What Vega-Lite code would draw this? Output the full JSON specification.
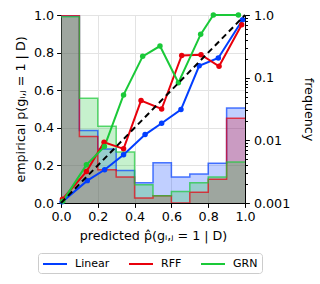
{
  "$schema": "https://vega.github.io/schema/vega-lite/v6.json",
  "width": 184,
  "height": 188,
  "autosize": "none",
  "padding": {"left": 61, "top": 15, "right": 75, "bottom": 81},
  "datasets": {
    "hist": [
      {"model": "Linear", "x": 0.0, "f": 0.96},
      {"model": "Linear", "x": 0.1, "f": 0.0144},
      {"model": "Linear", "x": 0.2, "f": 0.0073},
      {"model": "Linear", "x": 0.3, "f": 0.0033},
      {"model": "Linear", "x": 0.4, "f": 0.0021},
      {"model": "Linear", "x": 0.5, "f": 0.0044},
      {"model": "Linear", "x": 0.6, "f": 0.0026},
      {"model": "Linear", "x": 0.7, "f": 0.0029},
      {"model": "Linear", "x": 0.8, "f": 0.0043},
      {"model": "Linear", "x": 0.9, "f": 0.0327},
      {"model": "Linear", "x": 1.0, "f": 0.0327},
      {"model": "RFF", "x": 0.0, "f": 0.98},
      {"model": "RFF", "x": 0.1, "f": 0.0115},
      {"model": "RFF", "x": 0.2, "f": 0.0034},
      {"model": "RFF", "x": 0.3, "f": 0.0026},
      {"model": "RFF", "x": 0.4, "f": 0.0012},
      {"model": "RFF", "x": 0.5, "f": 0.0013},
      {"model": "RFF", "x": 0.6, "f": 0.001},
      {"model": "RFF", "x": 0.7, "f": 0.00148},
      {"model": "RFF", "x": 0.8, "f": 0.0024},
      {"model": "RFF", "x": 0.9, "f": 0.0226},
      {"model": "RFF", "x": 1.0, "f": 0.0226},
      {"model": "GRN", "x": 0.0, "f": 0.94},
      {"model": "GRN", "x": 0.1, "f": 0.047},
      {"model": "GRN", "x": 0.2, "f": 0.0168},
      {"model": "GRN", "x": 0.3, "f": 0.0065},
      {"model": "GRN", "x": 0.4, "f": 0.00196},
      {"model": "GRN", "x": 0.5, "f": 0.0013},
      {"model": "GRN", "x": 0.6, "f": 0.00153},
      {"model": "GRN", "x": 0.7, "f": 0.0021},
      {"model": "GRN", "x": 0.8, "f": 0.0026},
      {"model": "GRN", "x": 0.9, "f": 0.0045},
      {"model": "GRN", "x": 1.0, "f": 0.0045}
    ],
    "cal": [
      {"model": "Linear", "x": 0.006, "y": 0.006},
      {"model": "Linear", "x": 0.143, "y": 0.119},
      {"model": "Linear", "x": 0.237, "y": 0.177},
      {"model": "Linear", "x": 0.34, "y": 0.257},
      {"model": "Linear", "x": 0.457, "y": 0.364},
      {"model": "Linear", "x": 0.547, "y": 0.424},
      {"model": "Linear", "x": 0.652, "y": 0.497},
      {"model": "Linear", "x": 0.751, "y": 0.73},
      {"model": "Linear", "x": 0.855, "y": 0.771},
      {"model": "Linear", "x": 0.987, "y": 0.975},
      {"model": "RFF", "x": 0.008, "y": 0.02},
      {"model": "RFF", "x": 0.138, "y": 0.167},
      {"model": "RFF", "x": 0.234, "y": 0.323},
      {"model": "RFF", "x": 0.34, "y": 0.288},
      {"model": "RFF", "x": 0.435, "y": 0.545},
      {"model": "RFF", "x": 0.547, "y": 0.5},
      {"model": "RFF", "x": 0.656, "y": 0.785},
      {"model": "RFF", "x": 0.761, "y": 0.789},
      {"model": "RFF", "x": 0.859, "y": 0.727},
      {"model": "RFF", "x": 0.982, "y": 0.948},
      {"model": "GRN", "x": 0.01, "y": 0.01},
      {"model": "GRN", "x": 0.138, "y": 0.203},
      {"model": "GRN", "x": 0.236, "y": 0.3},
      {"model": "GRN", "x": 0.34, "y": 0.575},
      {"model": "GRN", "x": 0.444, "y": 0.78},
      {"model": "GRN", "x": 0.538, "y": 0.835},
      {"model": "GRN", "x": 0.638, "y": 0.64},
      {"model": "GRN", "x": 0.759, "y": 0.897},
      {"model": "GRN", "x": 0.828, "y": 1.0},
      {"model": "GRN", "x": 0.964, "y": 1.0}
    ],
    "diag": [{"x": 0, "y": 0}, {"x": 1, "y": 1}]
  },
  "layer": [
    {
      "data": {"name": "hist"},
      "layer": [
        {
          "mark": {"type": "area", "interpolate": "step-after", "fillOpacity": 0.25, "clip": true},
          "encoding": {
            "x": {"field": "x", "type": "quantitative", "scale": {"domain": [0, 1], "nice": false},
              "axis": {"title": "predicted p̂(gᵢ,ⱼ = 1 | D)", "values": [0, 0.2, 0.4, 0.6, 0.8, 1], "tickCount": 10, "format": ".1f", "grid": true, "titlePadding": 6, "labelOverlap": false, "labelFlush": false}},
            "y": {"field": "f", "type": "quantitative", "stack": null, "scale": {"type": "log", "domain": [0.001, 1], "nice": false}},
            "y2": {"datum": 0.001},
            "color": {"field": "model", "type": "nominal",
              "scale": {"domain": ["Linear", "RFF", "GRN"], "range": ["#023eff", "#e8000b", "#1ac938"]}}
          }
        },
        {
          "mark": {"type": "line", "interpolate": "step-after", "strokeWidth": 1.5, "strokeOpacity": 0.7, "clip": true},
          "encoding": {
            "x": {"field": "x", "type": "quantitative"},
            "y": {"field": "f", "type": "quantitative",
              "axis": {
                "orient": "right", "title": "frequency", "grid": false, "titlePadding": 12, "labelPadding": 4, "labelOverlap": false, "labelFlush": false, "tickCount": 40,
                "values": [0.001, 0.002, 0.003, 0.004, 0.005, 0.006, 0.007, 0.008, 0.009, 0.01, 0.02, 0.03, 0.04, 0.05, 0.06, 0.07, 0.08, 0.09, 0.1, 0.2, 0.3, 0.4, 0.5, 0.6, 0.7, 0.8, 0.9, 1],
                "labelExpr": "datum.value == 1 ? '1.0' : (datum.value == 0.1 ? '0.1' : (datum.value == 0.01 ? '0.01' : (datum.value == 0.001 ? '0.001' : '')))",
                "tickSize": {"condition": {"test": "datum.value == 1 || datum.value == 0.1 || datum.value == 0.01 || datum.value == 0.001", "value": 4.4}, "value": 2.5}
              }},
            "color": {"field": "model", "type": "nominal"}
          }
        }
      ]
    },
    {
      "layer": [
        {
          "data": {"name": "cal"},
          "mark": {"type": "line", "strokeWidth": 2},
          "encoding": {
            "x": {"field": "x", "type": "quantitative"},
            "y": {"field": "y", "type": "quantitative", "scale": {"domain": [0, 1], "nice": false},
              "axis": {"orient": "left", "title": "empirical p(gᵢ,ⱼ = 1 | D)", "values": [0, 0.2, 0.4, 0.6, 0.8, 1], "tickCount": 10, "format": ".1f", "grid": true, "titlePadding": 6, "labelOverlap": false, "labelFlush": false}},
            "color": {"field": "model", "type": "nominal"},
            "order": {"field": "x"}
          }
        },
        {
          "data": {"name": "cal"},
          "mark": {"type": "point", "filled": true, "size": 30, "opacity": 1},
          "encoding": {
            "x": {"field": "x", "type": "quantitative"},
            "y": {"field": "y", "type": "quantitative"},
            "color": {"field": "model", "type": "nominal"}
          }
        },
        {
          "data": {"name": "diag"},
          "mark": {"type": "line", "color": "black", "strokeWidth": 2, "strokeDash": [6, 4]},
          "encoding": {
            "x": {"field": "x", "type": "quantitative"},
            "y": {"field": "y", "type": "quantitative"}
          }
        }
      ]
    }
  ],
  "resolve": {"scale": {"y": "independent"}, "axis": {"y": "independent"}, "legend": {"color": "shared"}},
  "config": {
    "font": "DejaVu Sans",
    "view": {"stroke": "black", "strokeWidth": 1},
    "axis": {
      "domainColor": "black", "tickColor": "black", "tickSize": 4.4, "tickWidth": 1,
      "labelFontSize": 12.7, "titleFontSize": 12.7, "labelColor": "black", "titleColor": "black",
      "titleFontWeight": "normal", "labelPadding": 3, "gridColor": "#e3e3e3", "gridWidth": 1
    },
    "legend": {
      "labelFontSize": 11, "labelColor": "black", "title": null, "orient": "none", "legendX": -23, "legendY": 238, "direction": "horizontal",
      "symbolType": "M-1,0H3", "symbolSize": 144, "symbolStrokeWidth": 2, "symbolOpacity": 1, "labelOffset": 19,
      "columnPadding": 15, "padding": 4, "strokeColor": "#cccccc", "cornerRadius": 3
    }
  }
}
